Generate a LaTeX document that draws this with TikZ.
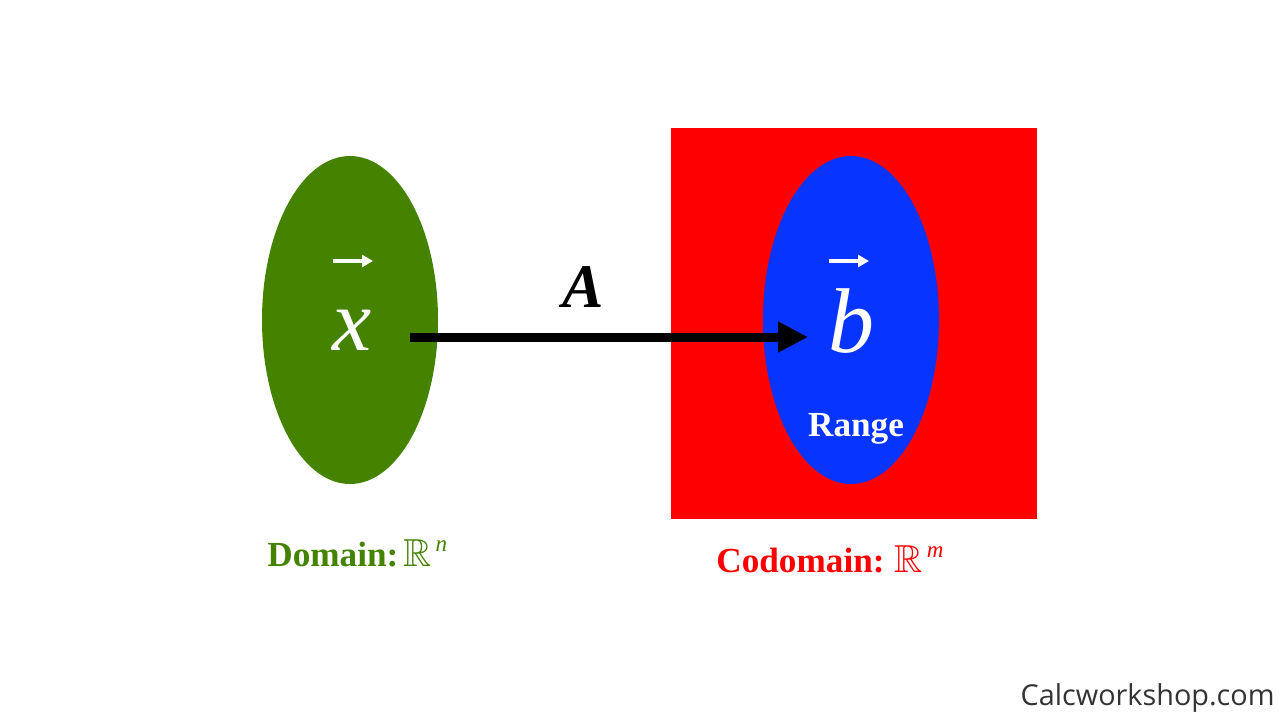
\documentclass[tikz,border=0pt]{standalone}
\usepackage{amsmath,amssymb}
\usepackage{fontspec}
\setmainfont{Liberation Serif}
\newfontfamily\opensans{Open Sans}
\usetikzlibrary{shapes.geometric,arrows.meta}
\definecolor{dgreen}{RGB}{69,130,0}
\definecolor{vblue}{RGB}{8,52,255}
\definecolor{wmark}{RGB}{51,51,51}
\newcommand{\supit}[1]{\raisebox{7.5pt}{\fontsize{11.5pt}{12pt}\selectfont\mdseries\itshape #1}}
\newcommand{\bigR}{{\fontsize{19.5pt}{21pt}\selectfont$\mathbb{R}$}}
\begin{document}
\begin{tikzpicture}[x=0.5pt,y=-0.5pt,
  blob/.style={ellipse,minimum width=88pt,minimum height=164pt,inner sep=0pt,draw=none},
  vecarrow/.style={white,line width=2pt,-{Triangle[length=5.5pt,width=6pt]}},
  maparrow/.style={black,line width=4.5pt,-{Triangle[length=15pt,width=14.5pt]}},
  lbl/.style={inner sep=0pt,anchor=base west,font=\fontsize{17.6pt}{20pt}\selectfont\bfseries}]
\useasboundingbox (0,0) rectangle (1280,720);
\fill[white] (0,0) rectangle (1280,720);
% shapes
\node[blob,fill=dgreen] (dom) at (350,320) {};
\node[rectangle,fill=red,minimum width=183pt,minimum height=195.5pt,inner sep=0pt] (cod) at (854,323.5) {};
\node[blob,fill=vblue] (rng) at (851,320) {};
% vector x
\node[white,inner sep=0pt,anchor=base,font=\fontsize{44pt}{48pt}\selectfont\itshape] (x) at (352,350) {x};
\coordinate (xa1) at (333,261);
\coordinate (xa2) at (373,261);
\draw[vecarrow] (xa1) -- (xa2);
% vector b
\node[white,inner sep=0pt,anchor=base,font=\fontsize{46pt}{50pt}\selectfont\itshape] (b) at (851,352) {b};
\coordinate (ba1) at (829,261);
\coordinate (ba2) at (869,261);
\draw[vecarrow] (ba1) -- (ba2);
% map arrow
\coordinate (ms) at (410,337);
\coordinate (me) at (808,337);
\draw[maparrow] (ms) -- (me);
\node[inner sep=0pt,anchor=base,font=\fontsize{31pt}{34pt}\selectfont\bfseries\itshape] (A) at (583,307) {A};
% range
\node[white,inner sep=0pt,anchor=base,font=\fontsize{17.6pt}{20pt}\selectfont\bfseries] (rl) at (856,436) {Range};
% labels
\node[lbl,text=dgreen] (dl) at (267,566) {Domain:\hspace{2.5pt}\mdseries\bigR\hspace{2pt}\supit{n}};
\node[lbl,text=red] (cl) at (716,572) {Codomain:\hspace{5pt}\mdseries\bigR\hspace{2pt}\supit{m}};
% watermark
\node[inner sep=0pt,anchor=base east,text=wmark,font=\fontsize{14.4pt}{16pt}\selectfont\opensans] (wm) at (1275,705) {Calcworkshop.com};
\end{tikzpicture}
\end{document}
